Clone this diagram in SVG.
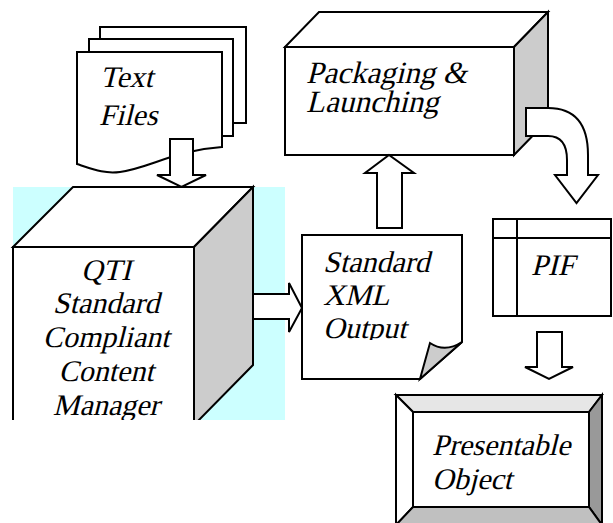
<svg xmlns="http://www.w3.org/2000/svg" width="613" height="523" viewBox="0 0 613 523">
  <style>
    .ln { stroke: #000; stroke-width: 2; stroke-linejoin: miter; }
    .w { fill: #fff; }
    .g { fill: #cccccc; }
    .t { font-family: 'Liberation Serif', serif; font-style: normal; font-size: 30px; fill: #000; stroke: none; }
  </style>
  <defs>
    <clipPath id="clipQti"><rect x="0" y="180" width="300" height="240"/></clipPath>
    <clipPath id="clipXmlText"><rect x="300" y="236" width="160" height="104"/></clipPath>
  </defs>

  <!-- highlight behind the content manager -->
  <rect x="13" y="187" width="272" height="233" fill="#ccffff"/>

  <!-- stacked text files -->
  <g id="text-files">
    <g class="ln">
      <rect class="w" x="100" y="27" width="146" height="96"/>
      <rect class="w" x="89" y="39" width="144" height="97"/>
      <path class="w" d="M77,52 L222,52 L222,147 C175,150 150,168 120,172 C105,174 95,170 77,164 Z"/>
    </g>
    <text class="t" transform="translate(100,87) skewX(-14)">Text</text>
    <text class="t" transform="translate(99,125) skewX(-14)">Files</text>
  </g>

  <!-- content manager cube -->
  <g id="content-manager" clip-path="url(#clipQti)">
    <g class="ln">
      <polygon class="w" points="13,247 73,187 253,187 194,247"/>
      <polygon class="g" points="194,247 253,187 253,365 194,425"/>
      <rect class="w" x="13" y="247" width="181" height="178"/>
    </g>
    <g text-anchor="middle">
      <text class="t" transform="translate(106,280) skewX(-14)">QTI</text>
      <text class="t" transform="translate(106,313) skewX(-14)">Standard</text>
      <text class="t" transform="translate(106,347) skewX(-14)">Compliant</text>
      <text class="t" transform="translate(106,381) skewX(-14)">Content</text>
      <text class="t" transform="translate(106,415) skewX(-14)">Manager</text>
    </g>
  </g>

  <!-- packaging and launching box -->
  <g id="packaging">
    <g class="ln">
      <polygon class="w" points="285,47 319,12 548,12 514,47"/>
      <polygon class="g" points="514,47 548,12 548,120 514,155"/>
      <rect class="w" x="285" y="47" width="229" height="108"/>
    </g>
    <text class="t" font-size="31" style="font-size:31px" transform="translate(306,83) skewX(-14)">Packaging &amp;</text>
    <text class="t" style="font-size:31px" transform="translate(306,112) skewX(-14)">Launching</text>
  </g>

  <!-- standard XML output document -->
  <g id="xml-output">
    <g class="ln">
      <path class="w" d="M302,235 L462,235 L462,342 L420,379 L302,379 Z"/>
      <path class="g" d="M420,379 L430,343 Q445,353 462,342 Z"/>
    </g>
    <g clip-path="url(#clipXmlText)">
      <text class="t" transform="translate(323,272) skewX(-14)">Standard</text>
      <text class="t" transform="translate(323,305) skewX(-14)">XML</text>
      <text class="t" transform="translate(323,338) skewX(-14)">Output</text>
    </g>
  </g>

  <!-- PIF table -->
  <g id="pif">
    <g class="ln">
      <rect class="w" x="493" y="219" width="118" height="97"/>
      <line x1="517" y1="219" x2="517" y2="316"/>
      <line x1="493" y1="238" x2="611" y2="238"/>
    </g>
    <text class="t" transform="translate(531,275) skewX(-14)">PIF</text>
  </g>

  <!-- presentable object bevel frame -->
  <g id="presentable">
    <g class="ln">
      <rect class="w" x="396" y="395" width="206" height="130"/>
      <polygon fill="#e6e6e6" points="396,395 602,395 589,412 413,412"/>
      <polygon fill="#ffffff" points="396,395 413,412 413,507 396,525"/>
      <polygon fill="#999999" points="602,395 602,525 589,507 589,412"/>
      <polygon fill="#c0c0c0" points="396,525 413,507 589,507 602,525"/>
      <rect class="w" x="413" y="412" width="176" height="95"/>
    </g>
    <text class="t" transform="translate(432,455) skewX(-14)">Presentable</text>
    <text class="t" transform="translate(432,489) skewX(-14)">Object</text>
  </g>

  <!-- block arrows between the nodes -->
  <g id="connectors" class="ln">
    <!-- text files down to manager -->
    <path class="w" d="M170,139 L193,139 L193,175 L206,175 L181.5,187 L157,175 L170,175 Z"/>
    <!-- manager to XML output -->
    <path class="w" d="M253,294 L289,294 L289,283 L302,308 L289,332 L289,319 L253,319 Z"/>
    <!-- XML output up to packaging -->
    <path class="w" d="M377,228 L377,173 L365,173 L389,155 L414,173 L402,173 L402,228 Z"/>
    <!-- PIF down to presentable object -->
    <path class="w" d="M537,332 L562,332 L562,367 L573,367 L549,379 L525,367 L537,367 Z"/>
    <!-- bent arrow from packaging to PIF -->
    <path class="w" d="M526,108 L548,108 Q588,108 588,155 L588,175 L598,175 L576.5,203 L555,175 L567,175 L567,160 Q567,136 548,136 L526,136 Z"/>
  </g>
</svg>
